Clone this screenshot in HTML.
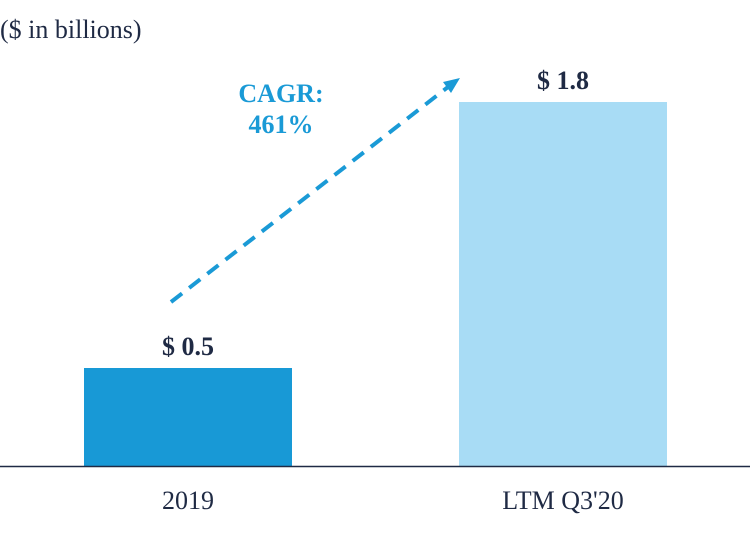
<!DOCTYPE html>
<html><head><meta charset="utf-8"><style>
body{margin:0;background:#fff;}
svg{display:block;font-family:"Liberation Serif",serif;}
</style></head><body>
<svg id="chart" width="750" height="546" viewBox="0 0 750 546">
<text x="0" y="38" font-size="26" fill="#1f2a44">($ in billions)</text>
<g id="bars"></g>
<line x1="0" y1="466.5" x2="750" y2="466.5" stroke="#1f2a44" stroke-width="1.5"/>
<g>
<line x1="171" y1="302" x2="448" y2="87" stroke="#1a9ad6" stroke-width="4" stroke-dasharray="14,9"/>
<polygon points="460,78 443,82 451,93" fill="#1a9ad6"/>
</g>
<text x="281" y="102" font-size="26" font-weight="bold" fill="#1a9ad6" text-anchor="middle">CAGR:</text>
<text x="281" y="133" font-size="26" font-weight="bold" fill="#1a9ad6" text-anchor="middle">461%</text>
</svg>
<script>
const categories = ["2019", "LTM Q3'20"];
const values = [0.49, 1.82];
const valueLabels = ["$ 0.5", "$ 1.8"];
const colors = ["#1899d6", "#a8dcf5"];
const baseY = 466, pxPerUnit = 200, barW = 208, centers = [188, 563];
const yScale = v => baseY - v * pxPerUnit;
const ns = "http://www.w3.org/2000/svg";
const g = document.getElementById('bars');
values.forEach((v, i) => {
  const r = document.createElementNS(ns, 'rect');
  r.setAttribute('x', centers[i] - barW / 2);
  r.setAttribute('y', yScale(v));
  r.setAttribute('width', barW);
  r.setAttribute('height', baseY - yScale(v));
  r.setAttribute('fill', colors[i]);
  
  
  g.appendChild(r);
  const t = document.createElementNS(ns, 'text');
  t.setAttribute('x', centers[i]);
  t.setAttribute('y', yScale(v) - 13);
  t.setAttribute('text-anchor', 'middle');
  t.setAttribute('font-size', '26');
  t.setAttribute('font-weight', 'bold');
  t.setAttribute('fill', '#1f2a44');
  t.textContent = valueLabels[i];
  
  
  g.appendChild(t);
  const c = document.createElementNS(ns, 'text');
  c.setAttribute('x', centers[i]);
  c.setAttribute('y', 509);
  c.setAttribute('text-anchor', 'middle');
  c.setAttribute('font-size', '26');
  c.setAttribute('fill', '#1f2a44');
  c.textContent = categories[i];
  
  
  g.appendChild(c);
});
</script>
</body></html>
